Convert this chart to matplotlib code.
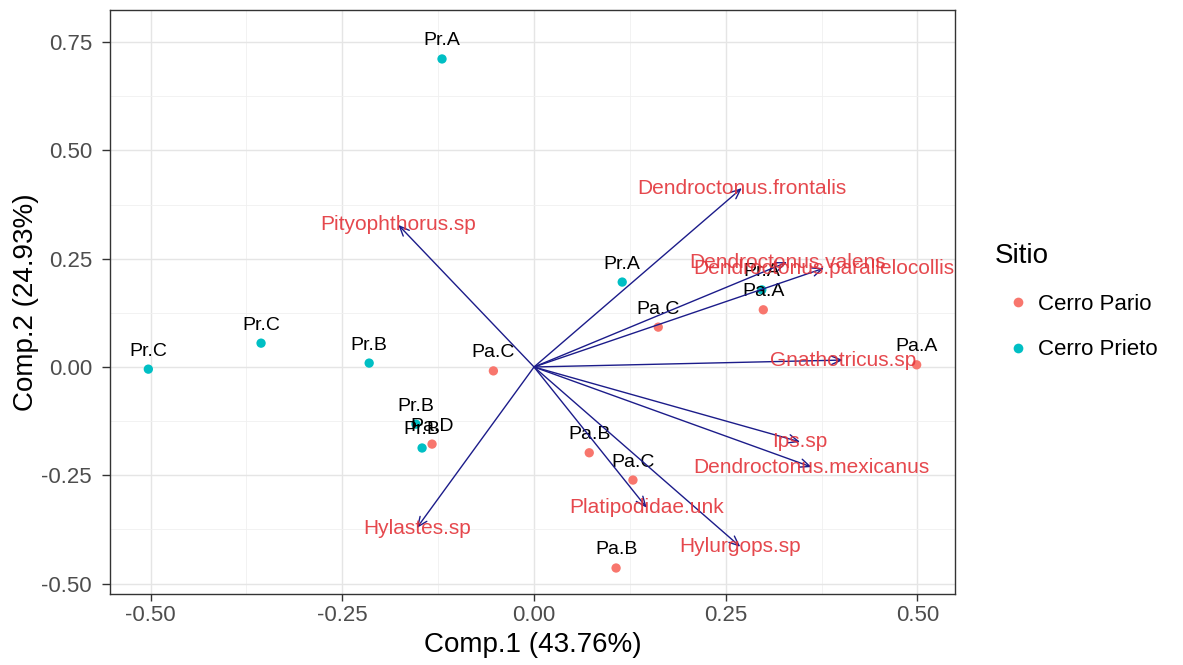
import matplotlib
matplotlib.use("Agg")
import matplotlib.pyplot as plt
from matplotlib.lines import Line2D
import numpy as np

plt.rcParams['font.family'] = ['Liberation Sans', 'DejaVu Sans']

# Site scores on the first two components
site_labels = ["Pr.A", "Pr.C", "Pr.C", "Pr.B", "Pa.C", "Pr.B", "Pr.B", "Pa.D",
               "Pa.B", "Pa.C", "Pa.B", "Pr.A", "Pa.C", "Pa.A", "Pr.A", "Pa.A"]
site_group = ["Cerro Prieto", "Cerro Prieto", "Cerro Prieto", "Cerro Prieto",
              "Cerro Pario", "Cerro Prieto", "Cerro Prieto", "Cerro Pario",
              "Cerro Pario", "Cerro Pario", "Cerro Pario", "Cerro Prieto",
              "Cerro Pario", "Cerro Pario", "Cerro Prieto", "Cerro Pario"]
comp1 = [-0.120, -0.503, -0.356, -0.215, -0.053, -0.154, -0.146, -0.133,
         0.072, 0.129, 0.107, 0.115, 0.162, 0.299, 0.297, 0.499]
comp2 = [0.711, -0.005, 0.055, 0.009, -0.009, -0.132, -0.187, -0.178,
         -0.198, -0.261, -0.464, 0.196, 0.092, 0.132, 0.178, 0.005]

# Species loadings (arrow tips)
species = ["Dendroctonus.frontalis", "Pityophthorus.sp", "Dendroctonus.valens",
           "Dendroctonus.parallelocollis", "Gnathotricus.sp", "Ips.sp",
           "Dendroctonus.mexicanus", "Platipodidae.unk", "Hylurgops.sp",
           "Hylastes.sp"]
load1 = [0.271, -0.177, 0.330, 0.378, 0.403, 0.347, 0.362, 0.147, 0.269, -0.153]
load2 = [0.413, 0.328, 0.242, 0.228, 0.016, -0.173, -0.231, -0.325, -0.415, -0.372]

groups = ["Cerro Pario", "Cerro Prieto"]
group_colors = {"Cerro Pario": "#F8766D", "Cerro Prieto": "#00BFC4"}

x_ticks = [-0.50, -0.25, 0.00, 0.25, 0.50]
y_ticks = [-0.50, -0.25, 0.00, 0.25, 0.50, 0.75]

W, H = 1183, 665
fig = plt.figure(figsize=(W / 100, H / 100), dpi=100)
ax = fig.add_axes([110 / W, 71 / H, 845 / W, 584 / H])

ax.set_xlim(-0.553, 0.549)
ax.set_ylim(-0.524, 0.824)

# theme_bw style grid
ax.set_xticks(x_ticks)
ax.set_yticks(y_ticks)
ax.set_xticks([-0.375, -0.125, 0.125, 0.375], minor=True)
ax.set_yticks([-0.375, -0.125, 0.125, 0.375, 0.625], minor=True)
ax.grid(which='major', color='#E5E5E5', linewidth=1.0)
ax.grid(which='minor', color='#F0F0F0', linewidth=0.6)
ax.set_axisbelow(True)
for sp in ax.spines.values():
    sp.set_color('#333333')
    sp.set_linewidth(1.0)
ax.tick_params(which='major', length=5, width=1.0, color='#333333',
               labelsize=16, labelcolor='#4D4D4D', pad=3)
ax.tick_params(axis='y', which='major', length=6, pad=7)
ax.tick_params(which='minor', length=0)
ax.set_xticklabels([f"{v:.2f}" for v in x_ticks])
ax.set_yticklabels([f"{v:.2f}" for v in y_ticks])

ax.set_xlabel("Comp.1 (43.76%)", fontsize=20, labelpad=4)
ax.set_ylabel("Comp.2 (24.93%)", fontsize=20, labelpad=2)

# site points
cols = [group_colors[g] for g in site_group]
ax.scatter(comp1, comp2, s=45, c=cols, edgecolors='none', zorder=3)
for lab, x, y in zip(site_labels, comp1, comp2):
    ax.annotate(lab, (x, y), xytext=(0, 13), textcoords='offset points',
                ha='center', va='center', fontsize=14, color='black', zorder=4)

# species arrows from origin
for name, x, y in zip(species, load1, load2):
    ax.annotate("", xy=(x, y), xytext=(0, 0),
                arrowprops=dict(arrowstyle='->,head_length=0.7,head_width=0.3',
                                color='#1C1C8A', lw=1.0, shrinkA=0, shrinkB=0),
                zorder=5)
for name, x, y in zip(species, load1, load2):
    ax.text(x, y, name, ha='center', va='center', fontsize=15,
            color='#E3343A', alpha=0.9, zorder=6)

# legend
fig.text(995 / W, 1 - 256 / H, "Sitio", fontsize=20, ha='left', va='center')
handles = [Line2D([], [], marker='o', linestyle='none', markersize=7,
                  markerfacecolor=group_colors[g], markeredgecolor='none', label=g)
           for g in groups]
leg = fig.legend(handles=handles, loc='upper left',
                 bbox_to_anchor=(1007 / W, 1 - 294 / H), frameon=False,
                 fontsize=16, handlelength=1.0, handletextpad=0.4,
                 labelspacing=1.1, borderaxespad=0, borderpad=0)

fig.savefig("out.png", dpi=100)
